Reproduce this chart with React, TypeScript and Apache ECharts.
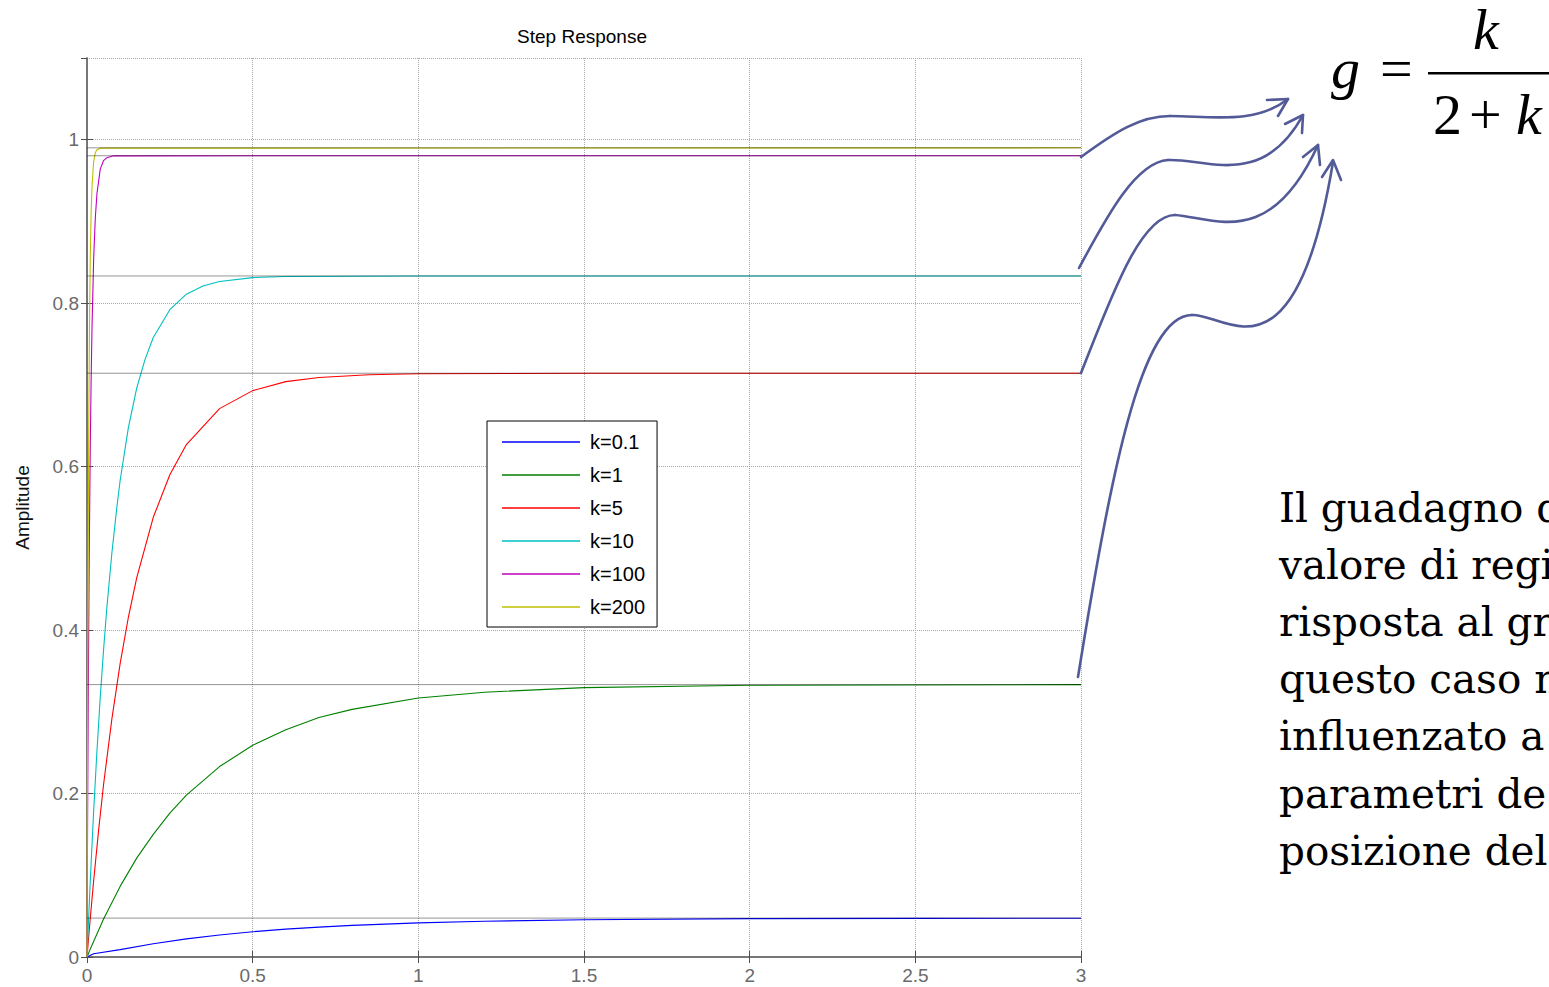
import React, { useEffect, useRef } from "react";
import * as echarts from "echarts";

// ---- data ----
const seriesNames = ["k=0.1", "k=1", "k=5", "k=10", "k=100", "k=200"];
const seriesColors = ["#0000ff", "#008000", "#ff0000", "#00bfbf", "#bf00bf", "#bfbf00"];

const tK01 = [0, 0.02, 0.1, 0.2, 0.3, 0.4, 0.5, 0.6, 0.7, 0.8, 1.0, 1.2, 1.5, 2.0, 2.5, 3.0];
const yK01 = [0, 0.004, 0.009, 0.0163, 0.0222, 0.027, 0.0309, 0.0341, 0.0366, 0.0387, 0.0418, 0.0438, 0.0456, 0.0469, 0.0473, 0.0475];

const tK1 = [0, 0.01, 0.05, 0.1, 0.15, 0.2, 0.25, 0.3, 0.4, 0.5, 0.6, 0.7, 0.8, 1.0, 1.2, 1.5, 2.0, 3.0];
const yK1 = [0, 0.0099, 0.0464, 0.0864, 0.121, 0.15, 0.176, 0.198, 0.233, 0.259, 0.278, 0.293, 0.303, 0.317, 0.324, 0.3296, 0.3325, 0.3333];

const tK5 = [0, 0.01, 0.02, 0.035, 0.05, 0.075, 0.1, 0.125, 0.15, 0.2, 0.25, 0.3, 0.4, 0.5, 0.6, 0.7, 0.85, 1.0, 1.5, 3.0];
const yK5 = [0, 0.048, 0.093, 0.155, 0.211, 0.291, 0.359, 0.416, 0.464, 0.538, 0.59, 0.627, 0.671, 0.693, 0.704, 0.709, 0.7124, 0.7137, 0.7143, 0.7143];

const tK10 = [0, 0.005, 0.01, 0.02, 0.03, 0.04, 0.05, 0.06, 0.075, 0.09, 0.1, 0.125, 0.15, 0.175, 0.2, 0.25, 0.3, 0.35, 0.4, 0.5, 0.6, 1.0, 3.0];
const yK10 = [0, 0.0485, 0.0942, 0.178, 0.252, 0.318, 0.376, 0.428, 0.494, 0.55, 0.583, 0.648, 0.696, 0.731, 0.758, 0.792, 0.811, 0.821, 0.8265, 0.8313, 0.8327, 0.8333, 0.8333];

const tK100 = [0, 0.001, 0.002, 0.003, 0.005, 0.0075, 0.01, 0.0125, 0.015, 0.02, 0.025, 0.03, 0.04, 0.05, 0.06, 0.08, 3.0];
const yK100 = [0, 0.095, 0.181, 0.259, 0.392, 0.525, 0.627, 0.707, 0.768, 0.853, 0.904, 0.934, 0.964, 0.9745, 0.978, 0.9803, 0.9804];

const tK200 = [0, 0.0005, 0.001, 0.0025, 0.005, 0.0075, 0.01, 0.0125, 0.015, 0.02, 0.025, 0.03, 0.04, 3.0];
const yK200 = [0, 0.095, 0.181, 0.393, 0.63, 0.772, 0.859, 0.911, 0.942, 0.973, 0.984, 0.9878, 0.9897, 0.9901];

const finalValues = [0.0476, 0.3333, 0.7143, 0.8333, 0.9804, 0.9901];

const timeArrays = [tK01, tK1, tK5, tK10, tK100, tK200];
const valueArrays = [yK01, yK1, yK5, yK10, yK100, yK200];

const paragraphLines = [
  "Il guadagno d",
  "valore di regi",
  "risposta al gr",
  "questo caso n",
  "influenzato a",
  "parametri de",
  "posizione del",
];

const SANS = "'Liberation Sans', Arial, Helvetica, sans-serif";
const SERIF_MATH = "'Liberation Serif', 'Times New Roman', serif";
const SERIF_TEXT = "'DejaVu Serif', Georgia, serif";
const ARROW = "#525a97";

export default function App() {
  const ref = useRef<HTMLDivElement>(null);

  useEffect(() => {
    if (!ref.current) return;
    const chart = echarts.init(ref.current, undefined, { renderer: "svg" });

    const curves = seriesNames.map((name, i) => ({
      name,
      type: "line",
      data: timeArrays[i].map((t, j) => [t, valueArrays[i][j]]),
      showSymbol: false,
      symbol: "none",
      lineStyle: { color: seriesColors[i], width: 1.1 },
      itemStyle: { color: seriesColors[i] },
      z: 2,
      silent: true,
    }));

    const finals = finalValues.map((v) => ({
      type: "line",
      data: [
        [0, v],
        [3, v],
      ],
      showSymbol: false,
      symbol: "none",
      lineStyle: { color: "rgba(0,0,0,0.42)", width: 1 },
      z: 3,
      silent: true,
    }));

    const arrowPaths: any[] = [
      // arrow 1
      { type: "bezierCurve", shape: { x1: 1081, y1: 157, cpx1: 1115, cpy1: 132, cpx2: 1140, cpy2: 116, x2: 1170, y2: 116 } },
      { type: "bezierCurve", shape: { x1: 1170, y1: 116, cpx1: 1210, cpy1: 116, cpx2: 1255, cpy2: 125, x2: 1288, y2: 99 } },
      { type: "polyline", shape: { points: [[1267, 100], [1288, 99], [1278, 116]] } },
      // arrow 2
      { type: "bezierCurve", shape: { x1: 1079, y1: 268, cpx1: 1105, cpy1: 220, cpx2: 1135, cpy2: 162, x2: 1168, y2: 160 } },
      { type: "bezierCurve", shape: { x1: 1168, y1: 160, cpx1: 1205, cpy1: 158, cpx2: 1262, cpy2: 190, x2: 1303, y2: 115 } },
      { type: "polyline", shape: { points: [[1285, 124], [1303, 115], [1302, 133]] } },
      // arrow 3
      { type: "bezierCurve", shape: { x1: 1081, y1: 373, cpx1: 1110, cpy1: 300, cpx2: 1140, cpy2: 215, x2: 1175, y2: 215 } },
      { type: "bezierCurve", shape: { x1: 1175, y1: 215, cpx1: 1215, cpy1: 218, cpx2: 1270, cpy2: 250, x2: 1318, y2: 145 } },
      { type: "polyline", shape: { points: [[1303, 157], [1318, 145], [1320, 165]] } },
      // arrow 4
      { type: "bezierCurve", shape: { x1: 1078, y1: 677, cpx1: 1110, cpy1: 480, cpx2: 1140, cpy2: 315, x2: 1192, y2: 315 } },
      { type: "bezierCurve", shape: { x1: 1192, y1: 315, cpx1: 1225, cpy1: 313, cpx2: 1295, cpy2: 392, x2: 1333, y2: 162 } },
      { type: "polyline", shape: { points: [[1322, 177], [1333, 160], [1341, 180]] } },
    ].map((el) => ({
      ...el,
      style: { stroke: ARROW, lineWidth: 2.6, fill: null, lineCap: "round", lineJoin: "round" },
      z: 10,
      silent: true,
    }));

    // y values are the tops of the text boxes (baseline ≈ top + 50 at 58px)
    const mathText = (text: string, x: number, y: number, italic: boolean) => ({
      type: "text",
      x,
      y,
      silent: true,
      style: {
        text,
        fill: "#000",
        font: `${italic ? "italic " : ""}58px ${SERIF_MATH}`,
        align: "left",
        verticalAlign: "top",
      },
    });

    const paragraph = paragraphLines.map((line, i) => ({
      type: "text",
      x: 1279,
      y: 487 + i * 57.2,
      silent: true,
      style: {
        text: line,
        fill: "#000",
        font: `40.5px ${SERIF_TEXT}`,
        align: "left",
        verticalAlign: "top",
      },
    }));

    const option: any = {
      animation: false,
      backgroundColor: "#ffffff",
      grid: { left: 87, top: 58, width: 994, height: 899, containLabel: false },
      legend: {
        data: seriesNames,
        orient: "vertical",
        left: 487,
        top: 421,
        icon: "rect",
        itemWidth: 78,
        itemHeight: 1.5,
        itemGap: 13,
        padding: [11, 12, 10, 15],
        backgroundColor: "#ffffff",
        borderColor: "#000000",
        borderWidth: 1,
        borderRadius: 0,
        selectedMode: false,
        textStyle: { fontFamily: SANS, fontSize: 20, color: "#000", lineHeight: 20, padding: [0, 0, 0, 5] },
        z: 20,
      },
      xAxis: [
        {
          type: "value",
          min: 0,
          max: 3,
          interval: 0.5,
          position: "bottom",
          axisLine: { show: true, lineStyle: { color: "#707070", width: 1.5 } },
          axisTick: { show: true, inside: true, length: 6, lineStyle: { color: "#505050" } },
          axisLabel: { color: "#6a6a6a", fontSize: 19, fontFamily: SANS, margin: 9 },
          splitLine: { show: true, lineStyle: { color: "#a8a8a8", type: "dotted", width: 1 } },
        },
        {
          type: "value",
          min: 0,
          max: 3,
          interval: 0.5,
          position: "top",
          axisLine: { show: true, lineStyle: { color: "#707070", width: 1.5 } },
          axisTick: { show: true, inside: true, length: 6, lineStyle: { color: "#505050" } },
          axisLabel: { show: false },
          splitLine: { show: false },
        },
      ],
      yAxis: [
        {
          type: "value",
          min: 0,
          max: 1.1,
          interval: 0.2,
          position: "left",
          name: "Amplitude",
          nameLocation: "middle",
          nameGap: 55,
          nameTextStyle: { color: "#111", fontSize: 19, fontFamily: SANS },
          axisLine: { show: true, lineStyle: { color: "#707070", width: 1.5 } },
          axisTick: { show: true, inside: true, length: 6, lineStyle: { color: "#505050" } },
          axisLabel: { color: "#6a6a6a", fontSize: 19, fontFamily: SANS, margin: 8, showMaxLabel: false },
          splitLine: { show: true, lineStyle: { color: "#a8a8a8", type: "dotted", width: 1 } },
        },
        {
          type: "value",
          min: 0,
          max: 1.1,
          interval: 0.2,
          position: "right",
          axisLine: { show: true, lineStyle: { color: "#707070", width: 1.5 } },
          axisTick: { show: true, inside: true, length: 6, lineStyle: { color: "#505050" } },
          axisLabel: { show: false },
          splitLine: { show: false },
        },
      ],
      series: [...finals, ...curves],
      graphic: [
        {
          type: "text",
          x: 582,
          y: 36,
          silent: true,
          style: {
            text: "Step Response",
            fill: "#000",
            font: `19px ${SANS}`,
            align: "center",
            verticalAlign: "middle",
          },
        },
        ...arrowPaths,
        mathText("g", 1331, 39, true),
        mathText("=", 1380, 39, false),
        mathText("k", 1473, 0, true),
        {
          type: "rect",
          silent: true,
          shape: { x: 1428, y: 72, width: 140, height: 2.6 },
          style: { fill: "#000" },
        },
        mathText("2", 1433, 85, false),
        mathText("+", 1469, 85, false),
        mathText("k", 1516, 85, true),
        ...paragraph,
      ],
    };

    chart.setOption(option);
    return () => chart.dispose();
  }, []);

  return (
    <div
      ref={ref}
      style={{ position: "fixed", left: 0, top: 0, width: 1549, height: 987, background: "#fff" }}
    />
  );
}
